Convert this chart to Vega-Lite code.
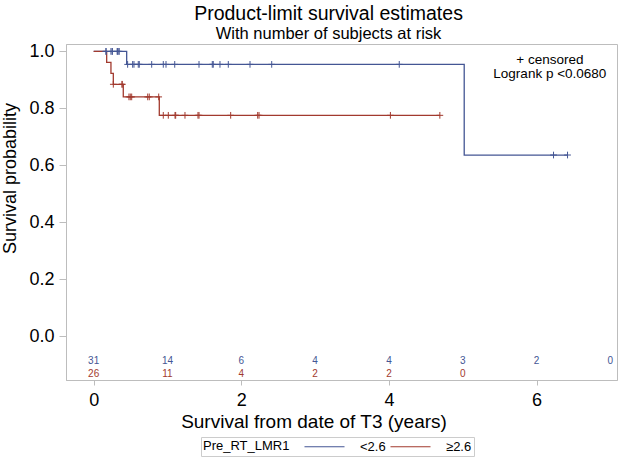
{
  "$schema": "https://vega.github.io/schema/vega-lite/v6.json",
  "width": 551,
  "height": 336,
  "autosize": {"type": "none"},
  "padding": {"left": 66, "top": 44, "right": 1, "bottom": 78},
  "background": "white",
  "title": {
    "text": "Product-limit survival estimates",
    "subtitle": "With number of subjects at risk",
    "anchor": "middle",
    "frame": "group",
    "dx": -13,
    "font": "Liberation Sans",
    "fontSize": 19.5,
    "fontWeight": "normal",
    "color": "#000000",
    "subtitleFont": "Liberation Sans",
    "subtitleFontSize": 16.5,
    "subtitleColor": "#000000",
    "subtitlePadding": 1,
    "offset": -1
  },
  "datasets": {
    "steps": [
      {"g": "<2.6", "t": 0, "s": 1},
      {"g": "<2.6", "t": 0.447, "s": 0.9545},
      {"g": "<2.6", "t": 5.02, "s": 0.6364},
      {"g": "<2.6", "t": 6.42, "s": 0.6364},
      {"g": "≥2.6", "t": 0, "s": 1},
      {"g": "≥2.6", "t": 0.176, "s": 0.9615},
      {"g": "≥2.6", "t": 0.234, "s": 0.9231},
      {"g": "≥2.6", "t": 0.266, "s": 0.8846},
      {"g": "≥2.6", "t": 0.401, "s": 0.8404},
      {"g": "≥2.6", "t": 0.889, "s": 0.7757},
      {"g": "≥2.6", "t": 4.69, "s": 0.7757}
    ],
    "cens": [
      {"g": "<2.6", "t": 0.167, "s": 1},
      {"g": "<2.6", "t": 0.167, "s": 1},
      {"g": "<2.6", "t": 0.234, "s": 1},
      {"g": "<2.6", "t": 0.252, "s": 1},
      {"g": "<2.6", "t": 0.252, "s": 1},
      {"g": "<2.6", "t": 0.32, "s": 1},
      {"g": "<2.6", "t": 0.32, "s": 1},
      {"g": "<2.6", "t": 0.343, "s": 1},
      {"g": "<2.6", "t": 0.343, "s": 1},
      {"g": "<2.6", "t": 0.46, "s": 0.9545},
      {"g": "<2.6", "t": 0.528, "s": 0.9545},
      {"g": "<2.6", "t": 0.546, "s": 0.9545},
      {"g": "<2.6", "t": 0.604, "s": 0.9545},
      {"g": "<2.6", "t": 0.618, "s": 0.9545},
      {"g": "<2.6", "t": 0.786, "s": 0.9545},
      {"g": "<2.6", "t": 0.943, "s": 0.9545},
      {"g": "<2.6", "t": 0.98, "s": 0.9545},
      {"g": "<2.6", "t": 1.098, "s": 0.9545},
      {"g": "<2.6", "t": 1.427, "s": 0.9545},
      {"g": "<2.6", "t": 1.607, "s": 0.9545},
      {"g": "<2.6", "t": 1.62, "s": 0.9545},
      {"g": "<2.6", "t": 1.711, "s": 0.9545},
      {"g": "<2.6", "t": 1.824, "s": 0.9545},
      {"g": "<2.6", "t": 2.118, "s": 0.9545},
      {"g": "<2.6", "t": 2.412, "s": 0.9545},
      {"g": "<2.6", "t": 4.14, "s": 0.9545},
      {"g": "<2.6", "t": 6.23, "s": 0.6364},
      {"g": "<2.6", "t": 6.42, "s": 0.6364},
      {"g": "≥2.6", "t": 0.266, "s": 0.8846},
      {"g": "≥2.6", "t": 0.385, "s": 0.8846},
      {"g": "≥2.6", "t": 0.385, "s": 0.8846},
      {"g": "≥2.6", "t": 0.478, "s": 0.8404},
      {"g": "≥2.6", "t": 0.496, "s": 0.8404},
      {"g": "≥2.6", "t": 0.515, "s": 0.8404},
      {"g": "≥2.6", "t": 0.732, "s": 0.8404},
      {"g": "≥2.6", "t": 0.753, "s": 0.8404},
      {"g": "≥2.6", "t": 0.881, "s": 0.8404},
      {"g": "≥2.6", "t": 0.943, "s": 0.7757},
      {"g": "≥2.6", "t": 1.011, "s": 0.7757},
      {"g": "≥2.6", "t": 1.102, "s": 0.7757},
      {"g": "≥2.6", "t": 1.111, "s": 0.7757},
      {"g": "≥2.6", "t": 1.237, "s": 0.7757},
      {"g": "≥2.6", "t": 1.413, "s": 0.7757},
      {"g": "≥2.6", "t": 1.427, "s": 0.7757},
      {"g": "≥2.6", "t": 1.856, "s": 0.7757},
      {"g": "≥2.6", "t": 2.222, "s": 0.7757},
      {"g": "≥2.6", "t": 2.24, "s": 0.7757},
      {"g": "≥2.6", "t": 4.02, "s": 0.7757},
      {"g": "≥2.6", "t": 4.69, "s": 0.7757}
    ],
    "risk": [
      {"g": "<2.6", "t": 0, "n": 31},
      {"g": "<2.6", "t": 1, "n": 14},
      {"g": "<2.6", "t": 2, "n": 6},
      {"g": "<2.6", "t": 3, "n": 4},
      {"g": "<2.6", "t": 4, "n": 4},
      {"g": "<2.6", "t": 5, "n": 3},
      {"g": "<2.6", "t": 6, "n": 2},
      {"g": "<2.6", "t": 7, "n": 0},
      {"g": "≥2.6", "t": 0, "n": 26},
      {"g": "≥2.6", "t": 1, "n": 11},
      {"g": "≥2.6", "t": 2, "n": 4},
      {"g": "≥2.6", "t": 3, "n": 2},
      {"g": "≥2.6", "t": 4, "n": 2},
      {"g": "≥2.6", "t": 5, "n": 0}
    ]
  },
  "layer": [
    {
      "data": {"name": "steps"},
      "mark": {"type": "line", "interpolate": "step-after", "strokeWidth": 1.3},
      "encoding": {
        "x": {
          "field": "t", "type": "quantitative",
          "scale": {"domain": [-0.375, 7.09], "nice": false, "zero": false},
          "axis": {"values": [0, 2, 4, 6], "format": "d", "tickSize": 5, "labelPadding": 6, "titlePadding": 3.5, "titleFontSize": 19, "titleX": 247.5, "labelFlush": false},
          "title": "Survival from date of T3 (years)"
        },
        "y": {
          "field": "s", "type": "quantitative",
          "scale": {"domain": [-0.153, 1.026], "nice": false, "zero": false},
          "axis": {"values": [0, 0.2, 0.4, 0.6, 0.8, 1.0], "format": ".1f", "tickSize": 7, "labelPadding": 5, "titlePadding": 9, "titleFontSize": 18, "titleY": 134, "labelFlush": false},
          "title": "Survival probability"
        },
        "color": {
          "field": "g", "type": "nominal",
          "scale": {"domain": ["<2.6", "≥2.6"], "range": ["#445694", "#A23A2E"]},
          "legend": {
            "orient": "none",
            "legendX": 135,
            "legendY": 393,
            "direction": "horizontal",
            "title": "\u00a0\u00a0Pre_RT_LMR1",
            "titleOrient": "left",
            "titleFont": "Liberation Sans",
            "titleFontSize": 13,
            "titleFontWeight": "normal",
            "titleColor": "#000000",
            "titleBaseline": "middle",
            "titlePadding": 27,
            "labelFont": "Liberation Sans",
            "labelFontSize": 13,
            "labelColor": "#000000",
            "labelOffset": 28,
            "columnPadding": 2,
            "symbolType": "M-3,0H3",
            "symbolSize": 178,
            "symbolStrokeWidth": 1.2,
            "strokeColor": "#cccccc",
            "padding": 2
          }
        }
      }
    },
    {
      "data": {"name": "cens"},
      "mark": {"type": "point", "shape": "M-1,0H1M0,-1V1", "size": 45, "filled": false, "strokeWidth": 1, "opacity": 1},
      "encoding": {
        "x": {"field": "t", "type": "quantitative"},
        "y": {"field": "s", "type": "quantitative"},
        "stroke": {
          "field": "g", "type": "nominal",
          "scale": {"domain": ["<2.6", "≥2.6"], "range": ["#445694", "#A23A2E"]},
          "legend": null
        }
      }
    },
    {
      "data": {"name": "risk"},
      "transform": [{"filter": "datum.g === '<2.6'"}],
      "mark": {"type": "text", "font": "Liberation Sans", "fontSize": 10, "color": "#445694", "baseline": "middle", "align": "center"},
      "encoding": {
        "x": {"field": "t", "type": "quantitative"},
        "y": {"datum": -0.085},
        "text": {"field": "n", "type": "quantitative"}
      }
    },
    {
      "data": {"name": "risk"},
      "transform": [{"filter": "datum.g === '≥2.6'"}],
      "mark": {"type": "text", "font": "Liberation Sans", "fontSize": 10, "color": "#A23A2E", "baseline": "middle", "align": "center"},
      "encoding": {
        "x": {"field": "t", "type": "quantitative"},
        "y": {"datum": -0.132},
        "text": {"field": "n", "type": "quantitative"}
      }
    },
    {
      "data": {"values": [{}]},
      "mark": {"type": "text", "text": ["+ censored", "Logrank p <0.0680"], "font": "Liberation Sans", "fontSize": 13.5, "lineHeight": 14, "color": "#000000", "baseline": "middle", "align": "center"},
      "encoding": {
        "x": {"datum": 6.18},
        "y": {"datum": 0.97}
      }
    }
  ],
  "config": {
    "view": {"stroke": "#bdbdbd", "strokeWidth": 1},
    "font": "Liberation Sans",
    "axis": {
      "domainColor": "#bdbdbd",
      "tickColor": "#bdbdbd",
      "labelColor": "#000000",
      "titleColor": "#000000",
      "labelFont": "Liberation Sans",
      "titleFont": "Liberation Sans",
      "titleFontWeight": "normal",
      "grid": false,
      "labelFontSize": 18,
      "titleFontSize": 18.5
    }
  }
}
